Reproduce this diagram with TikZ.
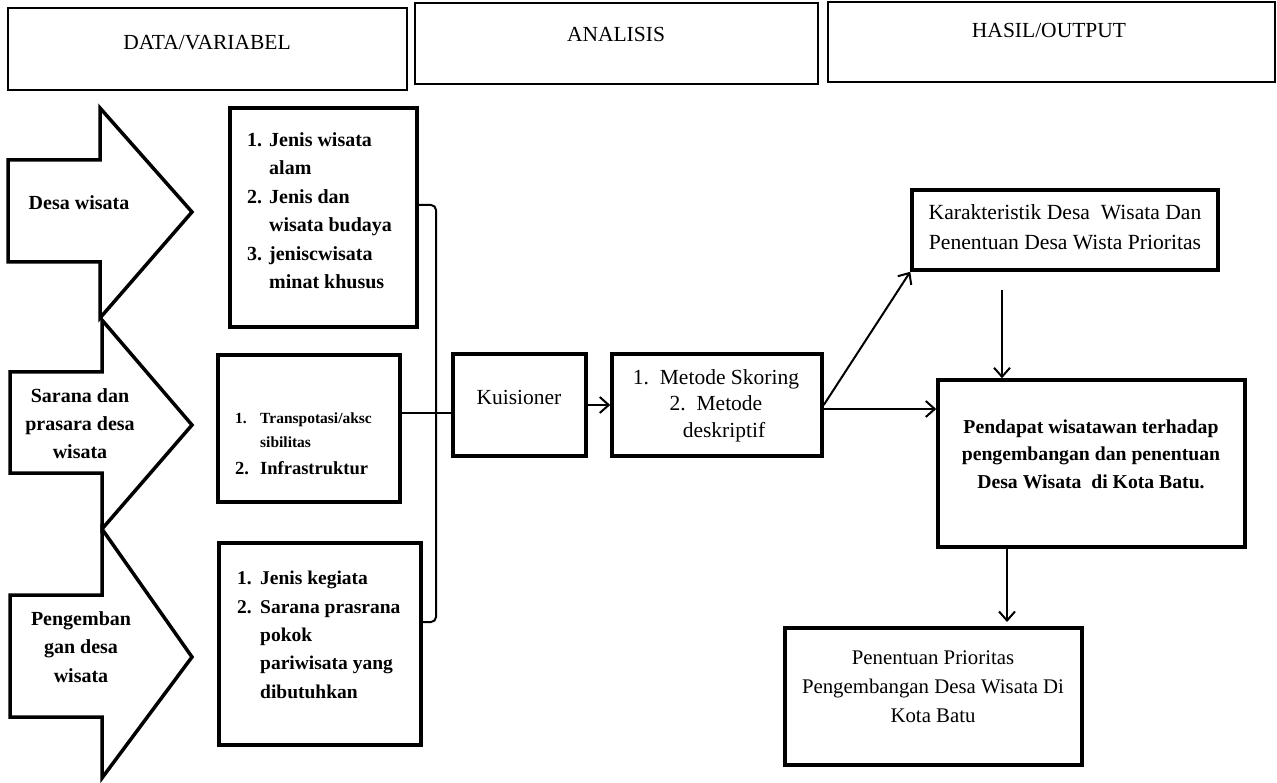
\documentclass[tikz,border=0pt]{standalone}
\usepackage{fontspec}
\setmainfont{Liberation Serif}
\usetikzlibrary{arrows.meta}
\newcommand\itm[1]{\makebox[22pt][l]{#1}}
\newcommand\ind{\hspace*{22pt}}
\begin{document}
\begin{tikzpicture}[x=1pt,y=-1pt,
  box/.style={draw, line width=3.5pt, inner sep=0pt},
  hdr/.style={draw, line width=2.8pt, inner sep=0pt},
  bigarrow/.style={draw, line width=3.5pt, line join=miter},
  con/.style={line width=2pt},
  arr/.style={line width=2pt, -{Straight Barb[length=9pt,width=16pt]}},
  rg/.style={inner sep=0pt, font=\fontsize{21.5}{29}\selectfont},
  bfs/.style={inner sep=0pt, font=\fontsize{20}{28.5}\selectfont\bfseries},
]
\useasboundingbox (0,0) rectangle (1277,783);

% header boxes
\node[hdr, minimum width=399pt, minimum height=82pt] (h1) at (207.5,49) {};
\node[hdr, minimum width=403pt, minimum height=81pt] (h2) at (616.5,43.5) {};
\node[hdr, minimum width=447pt, minimum height=80pt] (h3) at (1051.5,42) {};
\node[rg, anchor=base] (h1t) at (207,50) {DATA/VARIABEL};
\node[rg, anchor=base] (h2t) at (616,42) {ANALISIS};
\node[rg, anchor=base] (h3t) at (1049,38) {HASIL/OUTPUT};

% big arrows
\draw[bigarrow] (8,160) -- (100,160) -- (100,108) -- (192,212) -- (100,318) -- (100,262) -- (8,262) -- cycle;
\draw[bigarrow] (10,372) -- (102,372) -- (102,320) -- (192,425) -- (102,529) -- (102,473) -- (10,473) -- cycle;
\draw[bigarrow] (10,595) -- (102,595) -- (102,529) -- (192,657) -- (102,778) -- (102,717) -- (10,717) -- cycle;
\node[bfs, anchor=base] (a1) at (79,210) {Desa wisata};
\node[bfs, anchor=base, align=center, font=\fontsize{20}{28}\selectfont\bfseries] (a2) at (80,458) {Sarana dan\\prasara desa\\wisata};
\node[bfs, anchor=base, align=center, font=\fontsize{20}{28.5}\selectfont\bfseries] (a3) at (81,682) {Pengemban\\gan desa\\wisata};

% variable boxes
\node[box, minimum width=187pt, minimum height=219pt] (b1) at (323.5,217.5) {};
\node[box, minimum width=182pt, minimum height=147pt] (b2) at (309,428.5) {};
\node[box, minimum width=202pt, minimum height=202pt] (b3) at (320,644) {};

\node[bfs, anchor=base west, align=left] (b1t) at (247,289)
  {\itm{1.}Jenis wisata\\\ind alam\\\itm{2.}Jenis dan\\\ind wisata budaya\\\itm{3.}jeniscwisata\\\ind minat khusus};
\node[bfs, anchor=base west, align=left, font=\fontsize{15.5}{24}\selectfont\bfseries] (b2t) at (235,447)
  {\makebox[25pt][l]{1.}Transpotasi/aksc\\\hspace*{25pt}sibilitas};
\node[bfs, anchor=base west, font=\fontsize{18.5}{24}\selectfont\bfseries] (b2u) at (235,474)
  {\makebox[25pt][l]{2.}Infrastruktur};
\node[bfs, anchor=base west, align=left, font=\fontsize{19.5}{28.3}\selectfont\bfseries] (b3t) at (237,698)
  {\makebox[23pt][l]{1.}Jenis kegiata\\\makebox[23pt][l]{2.}Sarana prasrana\\\hspace*{23pt}pokok\\\hspace*{23pt}pariwisata yang\\\hspace*{23pt}dibutuhkan};

% bracket
\coordinate (bt) at (436,205);
\coordinate (bb) at (436,622);
\coordinate (bj) at (436,413);
\draw[con, rounded corners=5pt] (b1.east |- bt) -- (bt) -- (bb) -- (b3.east |- bb);

% analysis boxes
\node[box, minimum width=133pt, minimum height=102pt] (kuis) at (519.5,405) {};
\node[rg, anchor=base] (kuist) at (519,404) {Kuisioner};
\node[box, minimum width=210pt, minimum height=102pt] (met) at (717,405) {};
\node[rg, anchor=base, align=center, font=\fontsize{21.5}{26.5}\selectfont] (mett) at (716,437)
  {1.\ \ Metode Skoring\\2.\ \ Metode\\\hspace*{16pt}deskriptif};

\draw[con] (b2.east |- bj) -- (kuis.west |- bj);
\draw[arr] (kuis.east) -- (met.west);

% output boxes
\node[box, minimum width=306pt, minimum height=80pt] (kar) at (1065,230) {};
\node[rg, anchor=base, align=center, font=\fontsize{21.6}{30}\selectfont] (kart) at (1065,250)
  {Karakteristik Desa \ Wisata Dan\\Penentuan Desa Wista Prioritas};
\node[box, minimum width=307pt, minimum height=167pt] (pend) at (1091.5,463.5) {};
\node[bfs, anchor=base, align=center, font=\fontsize{19.7}{27.5}\selectfont\bfseries] (pendt) at (1091,488)
  {Pendapat wisatawan terhadap\\pengembangan dan penentuan\\Desa Wisata \ di Kota Batu.};
\node[box, minimum width=297pt, minimum height=137pt] (pen) at (933.5,696.5) {};
\node[rg, anchor=base, align=center, font=\fontsize{20.8}{29}\selectfont] (pent) at (933,722)
  {Penentuan Prioritas\\Pengembangan Desa Wisata Di\\Kota Batu};

% connectors
\coordinate (hm) at (822,409);
\coordinate (kd) at (1002,290);
\coordinate (pe) at (1007,622);
\draw[arr] (met.east) -- (kar.south west);
\draw[arr] (hm) -- (pend.west |- hm);
\draw[arr] (kd) -- (pend.north -| kd);
\draw[arr] (pend.south -| pe) -- (pe);
\end{tikzpicture}
\end{document}
